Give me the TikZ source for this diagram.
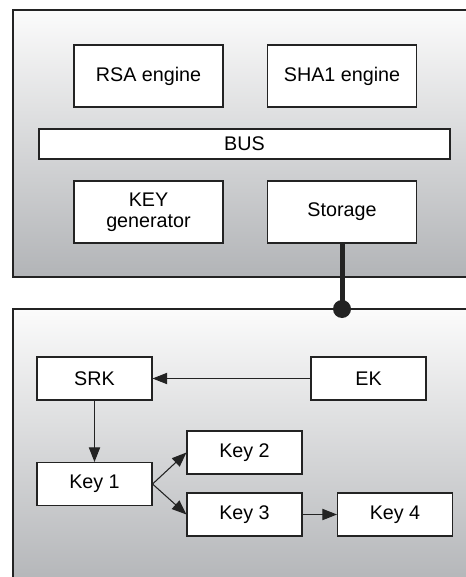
\documentclass[tikz,border=0pt]{standalone}
\usepackage{fontspec}
\setmainfont{Liberation Sans}
\usepackage{tikz}
\usetikzlibrary{shapes,arrows.meta,positioning,calc}
\usepackage{xcolor}
\definecolor{panelgray}{RGB}{178,180,183}
\definecolor{framedark}{RGB}{35,35,35}

\begin{document}
\begin{tikzpicture}[
    x=0.75pt, y=-0.75pt,
    every node/.style={font=\fontsize{14.8}{16.5}\selectfont},
    panel/.style={draw=framedark, line width=1.2pt, top color=gray!3, bottom color=panelgray},
    unit/.style={rectangle, draw=framedark, fill=white, line width=0.8pt, align=center, minimum width=111.75pt, minimum height=46.5pt, inner sep=1pt},
    bus/.style={rectangle, draw=framedark, fill=white, line width=0.8pt, minimum width=308.25pt, minimum height=22.5pt, inner sep=1pt},
    keybox/.style={rectangle, draw=framedark, fill=white, line width=0.8pt, minimum width=86.25pt, minimum height=32.25pt, inner sep=1pt},
    arr/.style={draw=framedark, line width=0.8pt, -{Triangle[length=11pt, width=8.5pt]}}
]
\useasboundingbox (0,0) rectangle (466,577);

% Panels (both run off the right edge)
\fill[white] (0,0) rectangle (466,577);
\begin{scope}
\clip (0,0) rectangle (466,577);
\draw[panel] (13,10) rectangle (480,277);
\draw[panel] (13,309) rectangle (480,590);
\end{scope}

% Upper panel: chip units
\node[unit] (RSA) at (148.5,76) {RSA engine};
\node[unit] (SHA) at (342,76) {SHA1 engine};
\node[bus] (BUS) at (244.5,144) {BUS};
\node[unit] (KEYGEN) at (148.5,212) {KEY\\[-1pt]generator};
\node[unit] (STORAGE) at (342,212) {Storage};

% Link from storage down to lower panel
\coordinate (tap) at (342,309);
\draw[framedark, line width=3.75pt] (STORAGE.south) -- (tap);
\fill[framedark] (tap) circle (6.75pt);

% Lower panel: key hierarchy
\node[keybox] (SRK) at (94.5,378.5) {SRK};
\node[keybox] (EK) at (368.5,378.5) {EK};
\node[keybox] (K1) at (94.5,484) {Key 1};
\node[keybox] (K2) at (244.5,452.5) {Key 2};
\node[keybox] (K3) at (244.5,514.5) {Key 3};
\node[keybox] (K4) at (395,514.5) {Key 4};

\draw[arr] (EK) -- (SRK);
\draw[arr] (SRK) -- (K1);
\draw[arr] (K1.east) -- (K2.west);
\draw[arr] (K1.east) -- (K3.west);
\draw[arr] (K3) -- (K4);

\end{tikzpicture}
\end{document}
